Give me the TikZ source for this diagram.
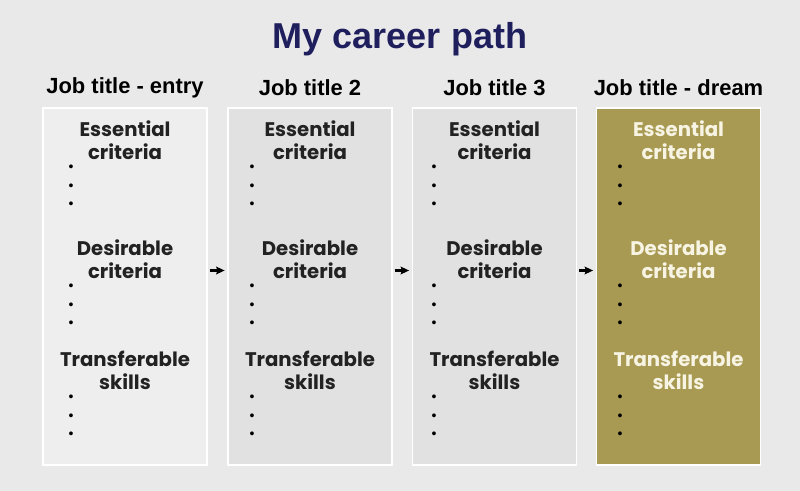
\documentclass[tikz,border=0pt]{standalone}
\usepackage{fontspec}
\setmainfont{Liberation Sans}
\newfontfamily\fgotica{Poppins}
\usetikzlibrary{arrows.meta,positioning,calc}
\definecolor{cfondo}{HTML}{E9E9E9}
\definecolor{ccaja}{HTML}{EEEEEE}
\definecolor{ccajab}{HTML}{E1E1E1}
\definecolor{cdorado}{HTML}{A89A52}
\definecolor{ctitulo}{HTML}{1F1F5E}
\definecolor{ctexto}{HTML}{222222}
\definecolor{cclaro}{HTML}{F8F4E4}
\tikzset{
  caja/.style={draw=white,line width=1.4pt,fill=ccaja,minimum width=164*0.025cm,
               minimum height=357*0.025cm,inner sep=0pt},
  cajab/.style={caja,fill=ccajab},
  cajad/.style={caja,fill=cdorado},
  tit/.style={font=\bfseries\fontsize{25.6}{28}\selectfont,text=ctitulo,inner sep=0pt},
  puesto/.style={font=\bfseries\fontsize{15.6}{18}\selectfont,text=black,inner sep=0pt},
  apartado/.style={font=\fgotica\bfseries\fontsize{14}{16.4}\selectfont,text=ctexto,
                   align=center,inner sep=0pt},
  apartadod/.style={apartado,text=cclaro},
  vinetas/.style={font=\fontsize{10}{13.1}\selectfont,text=black,align=left,inner sep=0pt},
  flecha/.style={-{Stealth[length=2.1mm,width=1.9mm,inset=0.3mm]},draw=black,line width=1.8pt,
                 shorten >=0.6mm,shorten <=0.4mm},
}

\begin{document}
\begin{tikzpicture}[x=0.025cm,y=-0.025cm]

% ---------------- fondo ----------------
\fill[cfondo] (0,0) rectangle (800,491);
\useasboundingbox (0,0) rectangle (800,491);

\node[tit] (titulo) at (400,39) {My career path};

% ---------------- columnas ----------------
\node[caja]  (c1) at (125,286.5)   {};
\node[cajab] (c2) at (310,286.5)   {};
\node[cajab] (c3) at (494.5,286.5) {};
\node[cajad] (c4) at (678.5,286.5) {};

\node[puesto] (p1) at (125,88)   {Job title - entry};
\node[puesto] (p2) at (310,88)   {Job title 2};
\node[puesto] (p3) at (494.5,88) {Job title 3};
\node[puesto] (p4) at (678.5,88) {Job title - dream};

% columna 1
\node[apartado] (e1) at (125,140) {Essential\\criteria};
\node[apartado] (d1) at (125,259) {Desirable\\criteria};
\node[apartado] (t1) at (125,370) {Transferable\\skills};
\node[vinetas] (v1a) at (71,187) {•\\•\\•};
\node[vinetas] (v1b) at (71,306) {•\\•\\•};
\node[vinetas] (v1c) at (71,417) {•\\•\\•};

% columna 2
\node[apartado] (e2) at (310,140) {Essential\\criteria};
\node[apartado] (d2) at (310,259) {Desirable\\criteria};
\node[apartado] (t2) at (310,370) {Transferable\\skills};
\node[vinetas] (v2a) at (252,187) {•\\•\\•};
\node[vinetas] (v2b) at (252,306) {•\\•\\•};
\node[vinetas] (v2c) at (252,417) {•\\•\\•};

% columna 3
\node[apartado] (e3) at (494.5,140) {Essential\\criteria};
\node[apartado] (d3) at (494.5,259) {Desirable\\criteria};
\node[apartado] (t3) at (494.5,370) {Transferable\\skills};
\node[vinetas] (v3a) at (434,187) {•\\•\\•};
\node[vinetas] (v3b) at (434,306) {•\\•\\•};
\node[vinetas] (v3c) at (434,417) {•\\•\\•};

% columna 4
\node[apartadod] (e4) at (678.5,140) {Essential\\criteria};
\node[apartadod] (d4) at (678.5,259) {Desirable\\criteria};
\node[apartadod] (t4) at (678.5,370) {Transferable\\skills};
\node[vinetas] (v4a) at (620,187) {•\\•\\•};
\node[vinetas] (v4b) at (620,306) {•\\•\\•};
\node[vinetas] (v4c) at (620,417) {•\\•\\•};

% ---------------- flechas ----------------
\draw[flecha] ([yshift=16*0.025cm]c1.east) -- ([yshift=16*0.025cm]c2.west);
\draw[flecha] ([yshift=16*0.025cm]c2.east) -- ([yshift=16*0.025cm]c3.west);
\draw[flecha] ([yshift=16*0.025cm]c3.east) -- ([yshift=16*0.025cm]c4.west);

\end{tikzpicture}
\end{document}
